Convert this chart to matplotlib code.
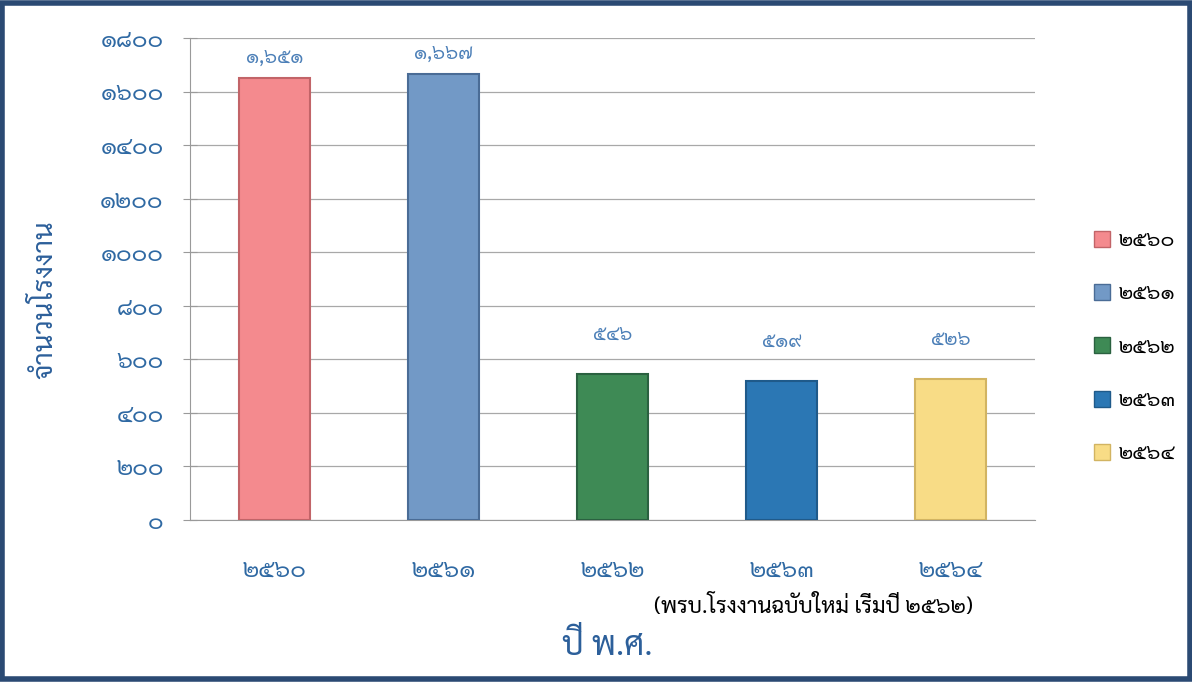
import matplotlib
matplotlib.use('Agg')
import matplotlib.pyplot as plt
from matplotlib.patches import Rectangle
from matplotlib.ticker import FuncFormatter

plt.rcParams['font.family'] = ['Sarabun', 'DejaVu Sans']

# ข้อมูลจำนวนโรงงานต่อปี
years = ['๒๕๖๐', '๒๕๖๑', '๒๕๖๒', '๒๕๖๓', '๒๕๖๔']
factories = [1651, 1667, 546, 519, 526]
value_labels = ['๑,๖๕๑', '๑,๖๖๗', '๕๔๖', '๕๑๙', '๕๒๖']
bar_colors = ['#f48a8e', '#7299c6', '#3e8a55', '#2b77b4', '#f8dc86']
edge_colors = ['#c26468', '#4a6c96', '#2a6140', '#1f5a8a', '#d2b462']

THAI_DIGITS = '๐๑๒๓๔๕๖๗๘๙'

def thai_num(v, pos=None):
    return ''.join(THAI_DIGITS[int(c)] if c.isdigit() else c for c in '%d' % v)

fig = plt.figure(figsize=(11.92, 6.82), dpi=100)
ax = fig.add_axes([0.1594, 0.2375, 0.709, 0.7065])

x = range(len(years))
bars = ax.bar(x, factories, width=0.42, color=bar_colors,
              edgecolor=edge_colors, linewidth=1.5, zorder=3)

# ป้ายค่าบนแท่ง (แท่งเตี้ยป้ายอยู่สูงกว่าเล็กน้อยเหมือนต้นฉบับ)
for i, b in enumerate(bars):
    off = 8 if b.get_height() > 1000 else 22
    ax.annotate(value_labels[i], (b.get_x() + b.get_width() / 2, b.get_height()),
                xytext=(0, off), textcoords='offset points', ha='center', va='bottom',
                fontsize=14, color='#4d80b8')

ax.set_xlim(-0.5, 4.5)
ax.set_ylim(0, 1800)
ax.set_yticks(range(0, 1801, 200))
ax.yaxis.set_major_formatter(FuncFormatter(thai_num))
ax.set_xticks(list(x))
ax.set_xticklabels(years)
ax.grid(axis='y', color='#a8a8a8', linewidth=0.9, zorder=0)
for s in ['top', 'right']:
    ax.spines[s].set_visible(False)
ax.spines['left'].set_color('#9a9a9a')
ax.spines['bottom'].set_color('#9a9a9a')
ax.tick_params(axis='y', direction='inout', length=10, color='#9a9a9a', pad=14,
               labelsize=17, labelcolor='#2f69a3')
ax.tick_params(axis='x', length=0, pad=28, labelsize=17, labelcolor='#2f69a3')

fig.text(45 / 1192, 1 - 300 / 682, 'จำนวนโรงงาน', rotation=90, ha='center', va='center',
         fontsize=20, color='#2c5f9a')
fig.text(607 / 1192, 1 - 646 / 682, 'ปี พ.ศ.', ha='center', va='center',
         fontsize=24, color='#2c5f9a')
fig.text(813 / 1192, 1 - 607 / 682, '(พรบ.โรงงานฉบับใหม่ เริ่มปี ๒๕๖๒)', ha='center',
         va='center', fontsize=16, color='black')

handles = [Rectangle((0, 0), 1, 1, facecolor=c, edgecolor=e) for c, e in zip(bar_colors, edge_colors)]
fig.legend(handles, years, loc='center left', bbox_to_anchor=(1075 / 1192, 1 - 347 / 682),
           frameon=False, fontsize=15, labelspacing=1.55, handlelength=0.8,
           handleheight=0.8, handletextpad=0.4)

# กรอบสีน้ำเงินรอบภาพ
fig.patches.append(Rectangle((0.002, 0.004), 0.996, 0.992, transform=fig.transFigure,
                             fill=False, edgecolor='#2b4a73', linewidth=4))

fig.savefig('out.png', dpi=100)
